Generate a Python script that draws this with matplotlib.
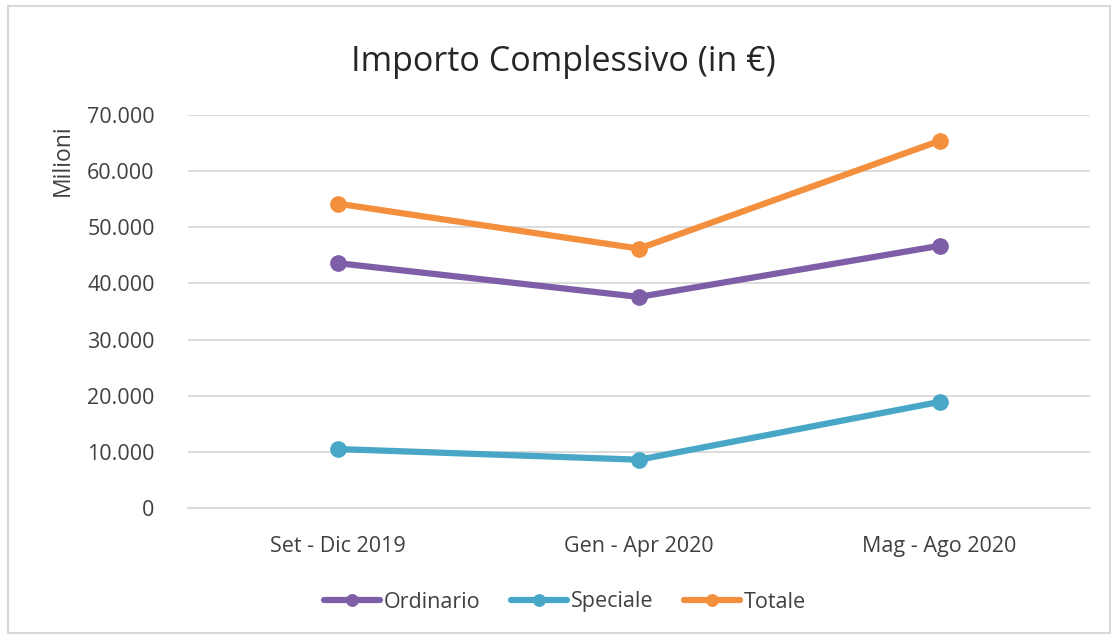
import matplotlib
matplotlib.use("Agg")
import matplotlib.pyplot as plt
from matplotlib.patches import Rectangle
from matplotlib.ticker import FuncFormatter

categories = ["Set - Dic 2019", "Gen - Apr 2020", "Mag - Ago 2020"]
ordinario = [43600, 37600, 46700]
speciale = [10500, 8600, 18900]
totale = [54200, 46200, 65400]

colors = {"Ordinario": "#7e5ea6", "Speciale": "#48a7c7", "Totale": "#f38f3d"}

plt.rcParams['font.family'] = ['Open Sans', 'DejaVu Sans']

fig = plt.figure(figsize=(11.17, 6.39), dpi=100)
fig.patch.set_facecolor("white")
fig.add_artist(Rectangle((8/1117, 6/639), 1102/1117, 627/639, transform=fig.transFigure,
                         fill=False, edgecolor="#d9d9d9", linewidth=1.5))

ax = fig.add_axes([188/1117, 1-508/639, 902/1117, 393/639])
x = list(range(len(categories)))
for name, vals in [("Ordinario", ordinario), ("Speciale", speciale), ("Totale", totale)]:
    ax.plot(x, vals, color=colors[name], linewidth=4.5, marker="o", markersize=11,
            label=name, solid_capstyle="round")

ax.set_xlim(-0.5, 2.5)
ax.set_ylim(0, 70000)
ax.set_yticks(range(0, 70001, 10000))
ax.yaxis.set_major_formatter(FuncFormatter(lambda v, p: f"{int(v):,}".replace(",", ".")))
ax.set_xticks(x)
ax.set_xticklabels(categories)
ax.grid(axis="y", color="#d9d9d9", linewidth=1.3)
ax.set_axisbelow(True)
for s in ["top", "right", "left"]:
    ax.spines[s].set_visible(False)
ax.spines["bottom"].set_color("#d9d9d9")
ax.spines["bottom"].set_linewidth(1.3)
ax.tick_params(axis="y", length=0, labelsize=15.5, colors="#404040", pad=24)
ax.tick_params(axis="x", length=0, labelsize=15.5, colors="#404040", pad=20)

fig.text(63/1117, 1-160/639, "Milioni", rotation=90, ha="center", va="center",
         fontsize=16.5, color="#404040")
fig.text(563/1117, 1-62/639, "Importo Complessivo (in €)", ha="center", va="center",
         fontsize=24.5, color="#262626")

leg = fig.legend(loc="center", bbox_to_anchor=(565/1117, 1-602/639), ncol=3, frameon=False,
                 fontsize=15.5, handlelength=2.6, columnspacing=1.4, handletextpad=0.2,
                 markerscale=0.75)
for t in leg.get_texts():
    t.set_color("#404040")

fig.savefig("out.png", dpi=100)
